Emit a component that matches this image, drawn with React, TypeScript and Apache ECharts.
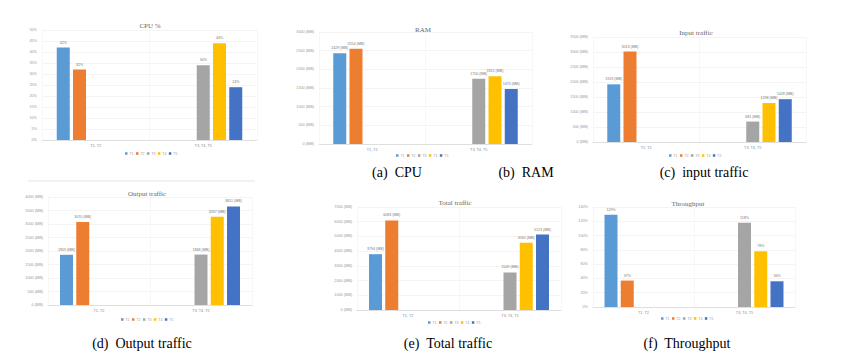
import React, { useEffect, useRef } from "react";
import * as echarts from "echarts";

const seriesNames = ["T1", "T2", "T3", "T4", "T5"];
const categories = ["T1, T2", "T3, T4, T5"];
const seriesColors = ["#5B9BD5", "#ED7D31", "#A5A5A5", "#FFC000", "#4472C4"];

const cpuValues = [42, 32, 34, 44, 24];
const ramValues = [2429, 2554, 1750, 1812, 1473];
const inputValues = [1923, 3013, 681, 1298, 1428];
const outputValues = [1859, 3070, 1868, 3267, 3651];
const totalValues = [3794, 6083, 2549, 4565, 5123];
const throughputValues = [129, 37, 118, 78, 36];

const panelTitles = ["CPU %", "RAM", "Input traffic", "Output traffic", "Total traffic", "Throughput"];
const captions = ["(a)  CPU", "(b)  RAM", "(c)  input traffic", "(d)  Output traffic", "(e)  Total traffic", "(f)  Throughput"];

type Panel = {
  values: number[];
  max: number;
  interval: number;
  axisFmt: (v: number) => string;
  labelFmt: (v: number) => string;
  grid: { left: number; top: number; width: number; height: number };
  titlePos: [number, number];
  legendPos: [number, number];
};

const mb = (v: number) => `${v} (MB)`;
const pct = (v: number) => `${v}%`;

const panels: Panel[] = [
  { values: cpuValues, max: 50, interval: 5, axisFmt: pct, labelFmt: pct,
    grid: { left: 42, top: 30, width: 215, height: 110 }, titlePos: [145, 21], legendPos: [147, 154] },
  { values: ramValues, max: 3000, interval: 500, axisFmt: mb, labelFmt: mb,
    grid: { left: 319, top: 32, width: 213, height: 112 }, titlePos: [418, 25], legendPos: [418, 156] },
  { values: inputValues, max: 3500, interval: 500, axisFmt: mb, labelFmt: mb,
    grid: { left: 593, top: 37, width: 213, height: 105 }, titlePos: [691, 28], legendPos: [691, 156] },
  { values: outputValues, max: 4000, interval: 500, axisFmt: mb, labelFmt: mb,
    grid: { left: 48, top: 197, width: 204, height: 108 }, titlePos: [142, 189], legendPos: [143, 320] },
  { values: totalValues, max: 7000, interval: 1000, axisFmt: mb, labelFmt: mb,
    grid: { left: 357, top: 207, width: 204, height: 103 }, titlePos: [450, 198], legendPos: [450, 323] },
  { values: throughputValues, max: 140, interval: 20, axisFmt: pct, labelFmt: pct,
    grid: { left: 593, top: 207, width: 202, height: 100 }, titlePos: [683, 199], legendPos: [683, 319] },
];

const captionPos: [number, number][] = [
  [397, 172], [526, 172], [704, 172], [142, 343], [448, 343], [687, 343],
];

export default function App() {
  const ref = useRef<HTMLDivElement>(null);
  useEffect(() => {
    if (!ref.current) return;
    const chart = echarts.init(ref.current, null, { renderer: "svg" });
    const grid: any[] = [];
    const xAxis: any[] = [];
    const yAxis: any[] = [];
    const series: any[] = [];
    const title: any[] = [];
    const legend: any[] = [];
    const graphic: any[] = [];

    panels.forEach((p, pi) => {
      grid.push({ ...p.grid, containLabel: false });
      xAxis.push({
        type: "category",
        gridIndex: pi,
        data: categories,
        axisTick: { show: false },
        axisLine: { lineStyle: { color: "#d9d9d9", width: 0.8 } },
        axisLabel: { fontSize: 3.8, color: "#888", margin: 4, fontFamily: "Liberation Sans" },
        splitLine: { show: true, lineStyle: { color: "#f2f2f2", width: 0.6 } },
      });
      yAxis.push({
        type: "value",
        gridIndex: pi,
        min: 0,
        max: p.max,
        interval: p.interval,
        axisLine: { show: false },
        axisTick: { show: false },
        axisLabel: { fontSize: 3.8, color: "#999", margin: 5, formatter: p.axisFmt, fontFamily: "Liberation Sans" },
        splitLine: { lineStyle: { color: "#ececec", width: 0.6 } },
      });
      seriesNames.forEach((name, si) => {
        const v = p.values[si];
        series.push({
          type: "bar",
          name,
          xAxisIndex: pi,
          yAxisIndex: pi,
          data: si < 2 ? [v, null] : [null, v],
          barWidth: 13,
          barGap: "25%",
          itemStyle: { color: seriesColors[si] },
          label: {
            show: true,
            position: "top",
            distance: 3,
            fontSize: 3.6,
            color: "#777",
            fontFamily: "Liberation Sans",
            formatter: (d: any) => p.labelFmt(d.value),
          },
        });
      });
      title.push({
        text: panelTitles[pi],
        left: p.titlePos[0],
        top: p.titlePos[1] - 4,
        textAlign: "center",
        textStyle: { fontSize: 7, fontWeight: "normal", color: "#666", fontFamily: "Liberation Serif" },
      });
      legend.push({
        data: seriesNames,
        left: p.legendPos[0] - 22,
        top: p.legendPos[1] - 2,
        itemWidth: 2.5,
        itemHeight: 2.5,
        itemGap: 2.5,
        icon: "rect",
        textStyle: { fontSize: 3.4, color: "#999", padding: [0, 0, 0, -3] },
        padding: 0,
      });
      graphic.push({
        type: "text",
        x: captionPos[pi][0],
        y: captionPos[pi][1],
        style: {
          text: captions[pi],
          fontSize: 14,
          fontFamily: "Liberation Serif",
          fill: "#000",
          textAlign: "center",
          textVerticalAlign: "middle",
        },
      });
    });

    graphic.push({
      type: "line",
      shape: { x1: 28, y1: 181, x2: 255, y2: 181 },
      style: { stroke: "#dddddd", lineWidth: 0.8 },
    });

    chart.setOption({
      animation: false,
      backgroundColor: "#ffffff",
      grid,
      xAxis,
      yAxis,
      series,
      title,
      legend,
      graphic,
    });
    return () => chart.dispose();
  }, []);
  return (
    <div
      ref={ref}
      style={{ position: "absolute", left: 0, top: 0, width: 867, height: 359, background: "#fff" }}
    />
  );
}
